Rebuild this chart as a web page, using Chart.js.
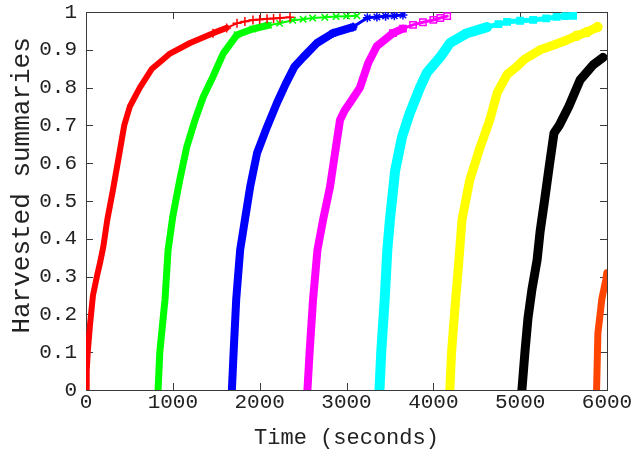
<!DOCTYPE html>
<html>
<head>
<meta charset="utf-8">
<script src="https://cdn.jsdelivr.net/npm/chart.js@4/dist/chart.umd.min.js"></script>
<style>
html,body{margin:0;padding:0;background:#fff;}
#wrap{width:636px;height:455px;}
</style>
</head>
<body>
<div id="wrap"><canvas id="c" width="636" height="455"></canvas></div>
<script>
// ---- data (time in seconds, fraction of harvested summaries) ----
const xTickLabels = ['0','1000','2000','3000','4000','5000','6000'];
const yTickLabels = ['0','0.1','0.2','0.3','0.4','0.5','0.6','0.7','0.8','0.9','1'];

const run1Time = [0,8,20,45,80,125,165,200,245,311,380,440,505,620,760,880,967,1198,1463,1620,1739,1830,1923,2000,2085,2160,2234,2350];
const run1Frac = [0,0.05,0.1,0.17,0.25,0.3,0.34,0.38,0.45,0.53,0.62,0.7,0.75,0.8,0.85,0.873,0.89,0.918,0.944,0.958,0.97,0.975,0.979,0.98,0.982,0.983,0.984,0.986];

const run2Time = [830,850,910,945,1000,1080,1160,1255,1350,1460,1580,1740,1920,2100,2230,2380,2500,2610,2750,2880,3000,3120];
const run2Frac = [0,0.1,0.24,0.37,0.46,0.556,0.643,0.714,0.775,0.828,0.89,0.94,0.955,0.965,0.97,0.978,0.981,0.984,0.986,0.988,0.989,0.99];

const run3Time = [1680,1700,1730,1775,1830,1890,1970,2085,2200,2300,2400,2500,2660,2845,3075,3240,3350,3450,3550,3650];
const run3Frac = [0,0.1,0.24,0.37,0.45,0.537,0.627,0.696,0.76,0.81,0.855,0.88,0.918,0.944,0.96,0.985,0.987,0.989,0.99,0.992];

const run4Time = [2550,2575,2615,2665,2730,2810,2868,2925,2980,3040,3155,3250,3350,3535,3650,3766,3880,4000,4080,4160];
const run4Frac = [0,0.1,0.24,0.37,0.45,0.537,0.627,0.714,0.74,0.76,0.8,0.865,0.91,0.944,0.956,0.966,0.973,0.979,0.984,0.989];

const run5Time = [3380,3400,3440,3470,3500,3560,3640,3730,3846,3927,4077,4192,4388,4618,4750,4850,5000,5150,5300,5420,5520,5610];
const run5Frac = [0,0.1,0.24,0.37,0.45,0.58,0.67,0.733,0.8,0.84,0.88,0.918,0.944,0.96,0.968,0.974,0.977,0.979,0.983,0.987,0.989,0.99];

const run6Time = [4190,4210,4250,4290,4330,4420,4540,4650,4735,4850,4960,5050,5230,5380,5540,5650,5770,5890];
const run6Frac = [0,0.1,0.22,0.33,0.45,0.556,0.643,0.714,0.786,0.835,0.855,0.875,0.9,0.912,0.926,0.937,0.947,0.96];

const run7Time = [5020,5055,5090,5135,5195,5230,5280,5340,5390,5450,5560,5690,5840,5955];
const run7Frac = [0,0.1,0.19,0.265,0.344,0.42,0.5,0.6,0.68,0.7,0.75,0.82,0.86,0.88];

const run8Time = [5880,5895,5940,5985,5998];
const run8Frac = [0,0.15,0.24,0.29,0.31];

// ---- styling ----
const runs = [
  {t: run1Time, v: run1Frac, color: '#ff0000', style: 'cross',    fill: false, w: 6},
  {t: run2Time, v: run2Frac, color: '#00ff00', style: 'crossRot', fill: false, w: 7},
  {t: run3Time, v: run3Frac, color: '#0000ff', style: 'star',     fill: false, w: 8},
  {t: run4Time, v: run4Frac, color: '#ff00ff', style: 'rect',     fill: false, w: 8},
  {t: run5Time, v: run5Frac, color: '#00ffff', style: 'rect',     fill: true,  w: 10},
  {t: run6Time, v: run6Frac, color: '#ffff00', style: 'circle',   fill: false, w: 9},
  {t: run7Time, v: run7Frac, color: '#000000', style: 'circle',   fill: true,  w: 9},
  {t: run8Time, v: run8Frac, color: '#ff4500', style: 'triangle', fill: true,  w: 7}
];

const datasets = runs.map((r, i) => ({
  label: 'run ' + (i + 1),
  data: r.t.map((t, k) => ({x: t, y: r.v[k]})),
  showLine: true,
  borderColor: r.color,
  backgroundColor: r.color,
  borderWidth: r.w,
  borderJoinStyle: 'round',
  borderCapStyle: 'round',
  tension: 0,
  segment: {
    borderWidth: c => (c.p0.parsed.y > 0.955 ? Math.max(2, r.w - 5) : r.w)
  },
  pointStyle: r.style,
  pointRadius: c => (c.raw && c.raw.y > 0.93 ? 4.5 : 0),
  pointBorderWidth: 1.5,
  pointBorderColor: r.color,
  pointBackgroundColor: r.fill ? r.color : 'rgba(255,255,255,0)'
}));

const frame = {
  id: 'frame',
  beforeDatasetsDraw(chart) {
    const {ctx, chartArea: a, scales: {x, y}} = chart;
    ctx.save();
    ctx.strokeStyle = '#3a3a3a';
    ctx.lineWidth = 1;
    ctx.strokeRect(Math.round(a.left) + 0.5, Math.round(a.top) + 0.5,
                   Math.round(a.right - a.left), Math.round(a.bottom - a.top));
    const L = 7;
    ctx.beginPath();
    x.ticks.forEach(t => {
      const px = Math.round(x.getPixelForValue(t.value)) + 0.5;
      ctx.moveTo(px, a.bottom); ctx.lineTo(px, a.bottom - L);
      ctx.moveTo(px, a.top); ctx.lineTo(px, a.top + L);
    });
    y.ticks.forEach(t => {
      const py = Math.round(y.getPixelForValue(t.value)) + 0.5;
      ctx.moveTo(a.left, py); ctx.lineTo(a.left + L, py);
      ctx.moveTo(a.right, py); ctx.lineTo(a.right - L, py);
    });
    ctx.stroke();
    ctx.restore();
  }
};

const tickFont = {family: '"Liberation Mono", "DejaVu Sans Mono", monospace', size: 21};

new Chart(document.getElementById('c'), {
  type: 'scatter',
  data: {datasets},
  plugins: [frame],
  options: {
    responsive: false,
    animation: false,
    events: [],
    layout: {padding: {top: 12, right: 29, bottom: 0, left: 0}},
    plugins: {legend: {display: false}, tooltip: {enabled: false}},
    scales: {
      x: {
        type: 'linear', min: 0, max: 6000,
        grid: {display: false, drawTicks: false},
        border: {display: false},
        ticks: {stepSize: 1000, autoSkip: false, maxRotation: 0, color: '#222', font: tickFont, padding: 0,
                callback: (v, i) => xTickLabels[i]},
        title: {display: true, text: 'Time (seconds)', color: '#222',
                font: {family: tickFont.family, size: 22}, padding: {top: 4, bottom: 4}},
        afterFit: s => { s.height = 65; s.paddingLeft = 0; s.paddingRight = 0; }
      },
      y: {
        type: 'linear', min: 0, max: 1,
        grid: {display: false, drawTicks: false},
        border: {display: false},
        ticks: {stepSize: 0.1, autoSkip: false, color: '#222', font: tickFont, padding: 9,
                callback: (v, i) => yTickLabels[i]},
        title: {display: true, text: '  Harvested summaries', color: '#222',
                font: {family: tickFont.family, size: 26}, padding: {top: 7, bottom: 7}},
        afterFit: s => { s.width = 86; s.paddingTop = 0; s.paddingBottom = 0; }
      }
    }
  }
});
</script>
</body>
</html>
